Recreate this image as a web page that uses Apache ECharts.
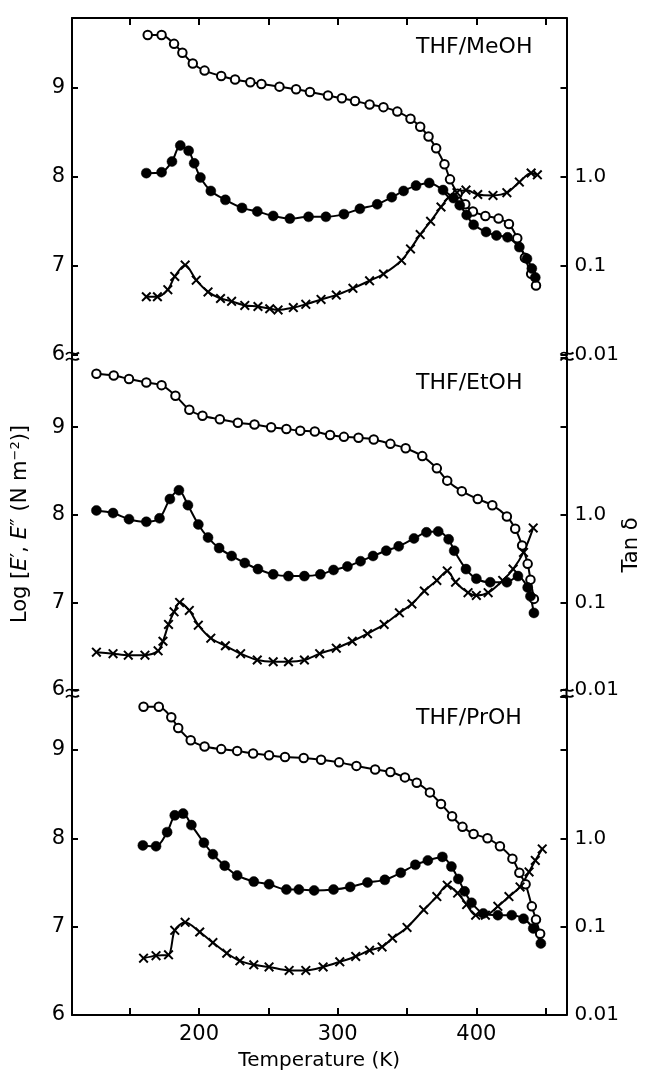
<!DOCTYPE html>
<html>
<head>
<meta charset="utf-8">
<script src="https://cdn.jsdelivr.net/npm/echarts@6/dist/echarts.min.js"></script>
<style>
    html, body { margin: 0; padding: 0; background: #fff; }
    #chart { width: 645px; height: 1072px; }
</style>
</head>
<body>
<div id="chart"></div>
<script>
// values: temperature (K), log E', log E'' and tan delta
const solvents = ['THF/MeOH', 'THF/EtOH', 'THF/PrOH'];
const tempTicks = [150, 200, 250, 300, 350, 400, 450];
const tempLabels = [200, 300, 400];
const logTicks = [6, 7, 8, 9];
const tanLabels = { '0.01': '0.01', '0.1': '0.1', '1': '1.0' };

// THF/MeOH
const meohStorageT = [163, 173, 182, 188, 195.5, 204, 216, 226, 237, 245, 258, 270, 280, 293, 303, 312.5, 323, 333, 343, 352.5, 359.5, 365.5, 371, 377, 381, 386.5, 392, 397.5, 406.5, 416, 423.5, 429.5, 435, 439.5, 443];
const meohStorage = [9.59, 9.59, 9.49, 9.39, 9.27, 9.19, 9.13, 9.09, 9.06, 9.04, 9.01, 8.98, 8.95, 8.91, 8.88, 8.85, 8.81, 8.78, 8.73, 8.65, 8.56, 8.45, 8.32, 8.14, 7.97, 7.81, 7.69, 7.61, 7.56, 7.53, 7.47, 7.31, 7.09, 6.91, 6.78];
const meohLossT = [162, 173, 180.5, 186.5, 192.5, 196.5, 201, 208.5, 219, 231, 242, 253.5, 265.5, 279, 291.5, 304.5, 316, 328.5, 339, 347.5, 356.5, 366, 376, 383.5, 388, 393, 398, 407, 414.5, 422.5, 431, 436.5, 440, 442.5];
const meohLoss = [8.04, 8.05, 8.17, 8.35, 8.29, 8.15, 7.99, 7.84, 7.74, 7.65, 7.61, 7.56, 7.53, 7.55, 7.55, 7.58, 7.64, 7.69, 7.77, 7.84, 7.90, 7.93, 7.85, 7.76, 7.68, 7.57, 7.46, 7.38, 7.34, 7.32, 7.21, 7.08, 6.97, 6.87];
const meohTanT = [162, 170, 177.5, 182.5, 190, 198, 206.5, 215.5, 223.5, 233, 242.5, 251, 257, 268, 277, 288, 299, 311, 323, 333, 346, 352.5, 359.5, 367, 374.5, 380, 386, 392.5, 401, 412, 422, 431, 439.5, 444];
const meohTan = [0.045, 0.045, 0.054, 0.076, 0.102, 0.069, 0.051, 0.043, 0.040, 0.036, 0.035, 0.033, 0.032, 0.034, 0.037, 0.042, 0.047, 0.056, 0.068, 0.081, 0.115, 0.155, 0.224, 0.316, 0.457, 0.589, 0.661, 0.708, 0.631, 0.617, 0.661, 0.871, 1.10, 1.05];

// THF/EtOH
const etohStorageT = [126, 138.5, 149.5, 162, 173, 183, 193, 202.5, 215, 228, 240, 252, 263, 273, 283.5, 294.5, 304.5, 315, 326, 338, 349, 361, 371.5, 379, 389.5, 401, 411.5, 422, 428, 433, 437, 439, 441.5];
const etohStorage = [9.61, 9.59, 9.55, 9.51, 9.48, 9.36, 9.20, 9.13, 9.09, 9.05, 9.03, 9.00, 8.98, 8.96, 8.95, 8.91, 8.89, 8.88, 8.86, 8.81, 8.76, 8.67, 8.53, 8.39, 8.27, 8.18, 8.11, 7.98, 7.84, 7.65, 7.44, 7.26, 7.04];
const etohLossT = [126, 138, 149.5, 162, 171.5, 179, 185.5, 192, 199.5, 206.5, 214.5, 223.5, 233, 242.5, 253.5, 264.5, 276, 287.5, 297, 307, 316.5, 325.5, 335, 344, 355, 364, 372.5, 380, 384, 392.5, 400, 410, 422, 430, 437, 439, 441.5];
const etohLoss = [8.05, 8.02, 7.95, 7.92, 7.96, 8.18, 8.28, 8.11, 7.89, 7.74, 7.62, 7.53, 7.45, 7.38, 7.32, 7.30, 7.30, 7.32, 7.37, 7.41, 7.47, 7.53, 7.59, 7.64, 7.73, 7.80, 7.81, 7.72, 7.59, 7.38, 7.27, 7.23, 7.23, 7.30, 7.17, 7.07, 6.88];
const etohTanT = [126, 138, 149, 161, 170.5, 174, 178, 182, 186, 193, 199.5, 208.5, 219, 230, 242, 253.5, 264.5, 276, 287, 299, 310.5, 321.5, 333.5, 344.5, 353.5, 362.5, 371.5, 379, 385, 394, 400, 408.5, 419, 426.5, 434, 441];
const etohTan = [0.027, 0.026, 0.025, 0.025, 0.028, 0.036, 0.056, 0.078, 0.100, 0.081, 0.055, 0.039, 0.032, 0.026, 0.022, 0.021, 0.021, 0.022, 0.026, 0.030, 0.036, 0.044, 0.056, 0.076, 0.096, 0.135, 0.178, 0.229, 0.170, 0.129, 0.120, 0.129, 0.178, 0.240, 0.372, 0.708];

// THF/PrOH
const prohStorageT = [160, 171, 180, 185, 194, 204, 216, 227.5, 239, 250.5, 262, 275.5, 288, 301, 313.5, 327, 338, 348.5, 357, 366.5, 374.5, 382.5, 390, 398, 408, 417, 426, 431, 435.5, 440, 443, 446];
const prohStorage = [9.49, 9.49, 9.37, 9.25, 9.11, 9.04, 9.01, 8.99, 8.96, 8.94, 8.92, 8.91, 8.89, 8.86, 8.82, 8.78, 8.75, 8.69, 8.63, 8.52, 8.39, 8.25, 8.13, 8.05, 8.00, 7.91, 7.77, 7.61, 7.48, 7.23, 7.08, 6.92];
const prohLossT = [159.5, 169, 177, 182.5, 188.5, 194.5, 203.5, 210, 218.5, 227.5, 239.5, 250.5, 263, 272, 283, 297, 309, 321.5, 334, 345.5, 356, 365, 375.5, 382, 387, 391.5, 396.5, 405, 415.5, 425.5, 434, 441, 446.5];
const prohLoss = [7.92, 7.91, 8.07, 8.26, 8.28, 8.15, 7.95, 7.82, 7.69, 7.58, 7.51, 7.48, 7.42, 7.42, 7.41, 7.42, 7.45, 7.50, 7.53, 7.61, 7.70, 7.75, 7.79, 7.68, 7.54, 7.40, 7.27, 7.15, 7.13, 7.13, 7.09, 6.98, 6.81];
const prohTanT = [160, 169, 178, 182.5, 190, 200.5, 210, 220, 229.5, 239.5, 250.5, 265, 277, 289.5, 301.5, 313, 323, 332, 339.5, 350, 362, 371.5, 379, 386.5, 393, 399.5, 406.5, 415.5, 423.5, 431.5, 438, 442.5, 447.5];
const prohTan = [0.044, 0.047, 0.048, 0.091, 0.112, 0.087, 0.066, 0.050, 0.041, 0.037, 0.035, 0.032, 0.032, 0.035, 0.040, 0.046, 0.054, 0.059, 0.074, 0.098, 0.155, 0.219, 0.295, 0.240, 0.178, 0.135, 0.135, 0.170, 0.219, 0.282, 0.417, 0.562, 0.759];

const storageSets = [[meohStorageT, meohStorage], [etohStorageT, etohStorage], [prohStorageT, prohStorage]];
const lossSets = [[meohLossT, meohLoss], [etohLossT, etohLoss], [prohLossT, prohLoss]];
const tanSets = [[meohTanT, meohTan], [etohTanT, etohTan], [prohTanT, prohTan]];

// panel layout (px) and top of each log E scale
const panels = [
    { top: 18, height: 337, max: 9.78, labelY: 47 },
    { top: 358, height: 332, max: 9.79, labelY: 383 },
    { top: 697, height: 318, max: 9.60, labelY: 718 }
];
const axisLeft = 72, axisRight = 566.5;
const font = 'DejaVu Sans';
const ink = '#000';

function zip (t, v) {
    return t.map((x, i) => [x, v[i]]);
}

const crossPath = 'path://M0,1.4L1.4,0L5,3.6L8.6,0L10,1.4L6.4,5L10,8.6L8.6,10L5,6.4L1.4,10L0,8.6L3.6,5Z';

let grids = [], xAxes = [], yAxes = [], series = [];
panels.forEach((p, i) => {
    grids.push({ left: axisLeft, right: 645 - axisRight, top: p.top, height: p.height });

    xAxes.push({
        gridIndex: i,
        type: 'value',
        min: 108.4,
        max: 465,
        show: i !== 1,
        position: i === 0 ? 'top' : 'bottom',
        name: i === 2 ? 'Temperature (K)' : '',
        nameLocation: 'middle',
        nameGap: 36,
        nameTextStyle: { color: ink, fontFamily: font, fontSize: 20 },
        axisLine: { onZero: false, lineStyle: { color: ink, width: 2 } },
        axisTick: { inside: true, length: 7, customValues: tempTicks, lineStyle: { color: ink, width: 2 } },
        axisLabel: { show: i === 2, customValues: tempLabels, color: ink, fontFamily: font, fontSize: 21, margin: 9 },
        splitLine: { show: false }
    });

    yAxes.push({
        gridIndex: i,
        type: 'value',
        min: 6,
        max: p.max,
        interval: 1,
        position: 'left',
        name: i === 1 ? 'Log [{i|E}\u2032, {i|E}\u2033 (N m{s|\u22122})]' : '',
        nameLocation: 'middle',
        nameRotate: 90,
        nameGap: 40,
        nameTextStyle: {
            color: ink, fontFamily: font, fontSize: 21,
            rich: {
                i: { fontStyle: 'italic', fontFamily: font, fontSize: 21, color: ink },
                s: { fontFamily: font, fontSize: 13, color: ink, padding: [0, 0, 10, 0] }
            }
        },
        axisLine: { show: true, lineStyle: { color: ink, width: 2 } },
        axisTick: { show: true, inside: true, length: 6, customValues: logTicks, lineStyle: { color: ink, width: 2 } },
        axisLabel: { customValues: logTicks, color: ink, fontFamily: font, fontSize: 21, margin: 7 },
        splitLine: { show: false }
    });

    yAxes.push({
        gridIndex: i,
        type: 'log',
        logBase: 10,
        min: 0.01,
        max: Math.pow(10, p.max - 8),
        position: 'right',
        axisLine: { show: true, lineStyle: { color: ink, width: 2 } },
        axisTick: { show: true, inside: true, length: 6, lineStyle: { color: ink, width: 2 } },
        axisLabel: {
            color: ink, fontFamily: font, fontSize: 20, margin: 8,
            formatter: v => tanLabels[String(+v.toPrecision(6))] || ''
        },
        splitLine: { show: false }
    });

    const base = {
        type: 'line',
        xAxisIndex: i,
        smooth: 0.3,
        animation: false,
        lineStyle: { color: ink, width: 2 },
        z: 3
    };
    series.push(Object.assign({}, base, {
        name: solvents[i] + " E'",
        yAxisIndex: 2 * i,
        data: zip(storageSets[i][0], storageSets[i][1]),
        symbol: 'circle',
        symbolSize: 8.5,
        itemStyle: { color: '#fff', borderColor: ink, borderWidth: 2 }
    }));
    series.push(Object.assign({}, base, {
        name: solvents[i] + " E''",
        yAxisIndex: 2 * i,
        data: zip(lossSets[i][0], lossSets[i][1]),
        symbol: 'circle',
        symbolSize: 10,
        itemStyle: { color: ink, borderColor: ink, borderWidth: 0.5 }
    }));
    series.push(Object.assign({}, base, {
        name: solvents[i] + ' tan \u03b4',
        yAxisIndex: 2 * i + 1,
        data: zip(tanSets[i][0], tanSets[i][1]),
        symbol: crossPath,
        symbolSize: 10,
        itemStyle: { color: ink }
    }));
});

// axis break marks and panel captions
let graphic = [];
[[panels[0].top + panels[0].height, panels[1].top],
 [panels[1].top + panels[1].height, panels[2].top]].forEach(([y0, y1]) => {
    const y = (y0 + y1) / 2;
    [axisLeft, axisRight].forEach(x => {
        graphic.push({ type: 'line', shape: { x1: x, y1: y0 - 2, x2: x, y2: y1 + 2 },
                       style: { stroke: ink, lineWidth: 2 }, z: 10 });
        [-3, 3].forEach(d => {
            graphic.push({ type: 'bezierCurve',
                           shape: { x1: x - 6, y1: y + d + 1, x2: x + 7, y2: y + d - 1,
                                    cpx1: x - 2, cpy1: y + d - 5, cpx2: x + 2, cpy2: y + d + 4 },
                           style: { stroke: ink, lineWidth: 1.8, fill: null }, z: 11 });
        });
    });
});
panels.forEach((p, i) => {
    graphic.push({
        type: 'text', x: 416, y: p.labelY, z: 12,
        style: { text: solvents[i], fill: ink, font: '22px "DejaVu Sans"',
                 textAlign: 'left', align: 'left', textVerticalAlign: 'middle', verticalAlign: 'middle' }
    });
});
graphic.push({
    type: 'text', x: 632, y: 545, rotation: Math.PI / 2, z: 12,
    style: { text: 'Tan \u03b4', fill: ink, font: '21px "DejaVu Sans"',
             textAlign: 'center', align: 'center', textVerticalAlign: 'middle', verticalAlign: 'middle' }
});

const chart = echarts.init(document.getElementById('chart'), null, { renderer: 'canvas' });
chart.setOption({
    backgroundColor: '#fff',
    animation: false,
    grid: grids,
    xAxis: xAxes,
    yAxis: yAxes,
    series: series,
    graphic: graphic
});
</script>
</body>
</html>
